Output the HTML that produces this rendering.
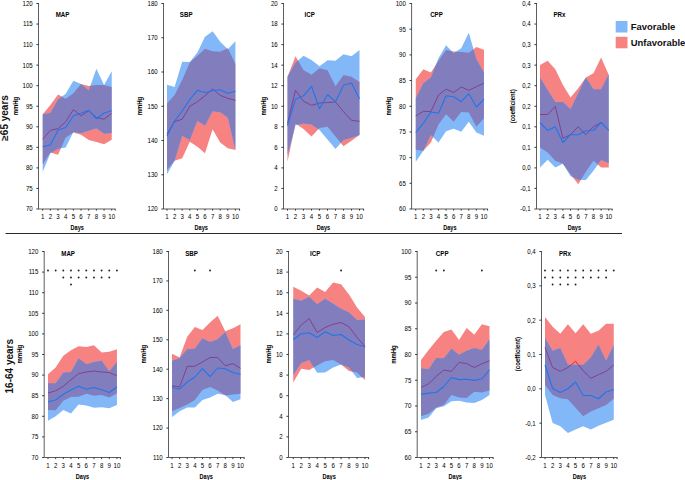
<!DOCTYPE html>
<html><head><meta charset="utf-8"><title>Chart</title>
<style>
html,body{margin:0;padding:0;background:#fff;}
body{width:685px;height:480px;overflow:hidden;}
svg{display:block;font-family:"Liberation Sans",sans-serif;}
</style></head><body>
<svg width="685" height="480" viewBox="0 0 685 480">
<rect width="685" height="480" fill="#fff"/>
<g><clipPath id="cb0"><polygon points="42.7,114.2 50.37,113 58.04,99.6 65.71,93.75 73.38,80.8 81.05,84 88.72,90.4 96.39,68.75 104.06,85 111.73,71.25 111.73,133 104.06,133.7 96.39,128.3 88.72,130.8 81.05,133.3 73.38,132 65.71,147.5 58.04,148.7 50.37,153.3 42.7,171.7"/></clipPath><polygon points="42.7,114.2 50.37,105 58.04,94.6 65.71,98.75 73.38,93.3 81.05,84 88.72,86 96.39,85 104.06,85 111.73,87 111.73,139.7 104.06,144.2 96.39,142 88.72,140 81.05,134.7 73.38,132.5 65.71,137.5 58.04,154.7 50.37,152.5 42.7,164.2" fill="rgb(246,130,130)"/><polyline points="42.7,139.2 50.37,130.3 58.04,128.7 65.71,121.7 73.38,109.7 81.05,115.8 88.72,110.8 96.39,117.5 104.06,119.2 111.73,113.3" fill="none" stroke="rgb(235,30,40)" stroke-width="0.95" stroke-linejoin="round"/><polygon points="42.7,114.2 50.37,113 58.04,99.6 65.71,93.75 73.38,80.8 81.05,84 88.72,90.4 96.39,68.75 104.06,85 111.73,71.25 111.73,133 104.06,133.7 96.39,128.3 88.72,130.8 81.05,133.3 73.38,132 65.71,147.5 58.04,148.7 50.37,153.3 42.7,171.7" fill="rgb(130,184,248)"/><g clip-path="url(#cb0)"><polygon points="42.7,114.2 50.37,105 58.04,94.6 65.71,98.75 73.38,93.3 81.05,84 88.72,86 96.39,85 104.06,85 111.73,87 111.73,139.7 104.06,144.2 96.39,142 88.72,140 81.05,134.7 73.38,132.5 65.71,137.5 58.04,154.7 50.37,152.5 42.7,164.2" fill="rgb(130,126,190)"/><polyline points="42.7,139.2 50.37,130.3 58.04,128.7 65.71,121.7 73.38,109.7 81.05,115.8 88.72,110.8 96.39,117.5 104.06,119.2 111.73,113.3" fill="none" stroke="rgb(128,62,138)" stroke-width="0.95" stroke-linejoin="round"/></g><polyline points="42.7,146.7 50.37,145 58.04,130.3 65.71,127.5 73.38,115.8 81.05,113.3 88.72,110.3 96.39,118.7 104.06,113 111.73,110.8" fill="none" stroke="rgb(30,118,238)" stroke-width="1.1" stroke-linejoin="round"/><path d="M38.5 3V209H115.6" fill="none" stroke="#5e5e5e" stroke-width="1.0"/><path d="M36.4 3.5H38.5 M36.4 24.05H38.5 M36.4 44.6H38.5 M36.4 65.15H38.5 M36.4 85.7H38.5 M36.4 106.25H38.5 M36.4 126.8H38.5 M36.4 147.35H38.5 M36.4 167.9H38.5 M36.4 188.45H38.5 M36.4 209H38.5 M42.7 209V210.6 M50.37 209V210.6 M58.04 209V210.6 M65.71 209V210.6 M73.38 209V210.6 M81.05 209V210.6 M88.72 209V210.6 M96.39 209V210.6 M104.06 209V210.6 M111.73 209V210.6 M115.2 209V210.6" stroke="#222" stroke-width="0.9" fill="none"/><g font-size="7.3" text-anchor="end" fill="#000"><text transform="translate(32.7 5.85) scale(0.835 1)">120</text><text transform="translate(32.7 26.4) scale(0.835 1)">115</text><text transform="translate(32.7 46.95) scale(0.835 1)">110</text><text transform="translate(32.7 67.5) scale(0.835 1)">105</text><text transform="translate(32.7 88.05) scale(0.835 1)">100</text><text transform="translate(32.7 108.6) scale(0.835 1)">95</text><text transform="translate(32.7 129.15) scale(0.835 1)">90</text><text transform="translate(32.7 149.7) scale(0.835 1)">85</text><text transform="translate(32.7 170.25) scale(0.835 1)">80</text><text transform="translate(32.7 190.8) scale(0.835 1)">75</text><text transform="translate(32.7 211.35) scale(0.835 1)">70</text></g><g font-size="7.3" text-anchor="middle" fill="#000"><text transform="translate(42.7 218.9) scale(0.835 1)">1</text><text transform="translate(50.37 218.9) scale(0.835 1)">2</text><text transform="translate(58.04 218.9) scale(0.835 1)">3</text><text transform="translate(65.71 218.9) scale(0.835 1)">4</text><text transform="translate(73.38 218.9) scale(0.835 1)">5</text><text transform="translate(81.05 218.9) scale(0.835 1)">6</text><text transform="translate(88.72 218.9) scale(0.835 1)">7</text><text transform="translate(96.39 218.9) scale(0.835 1)">8</text><text transform="translate(104.06 218.9) scale(0.835 1)">9</text><text transform="translate(111.73 218.9) scale(0.835 1)">10</text></g><text transform="translate(77.22 230.1) scale(0.86 1)" font-size="6.5" font-weight="bold" text-anchor="middle" fill="#000">Days</text><text transform="translate(62.5 16.8) scale(0.86 1)" font-size="7.2" font-weight="bold" text-anchor="middle" fill="#000">MAP</text><text transform="translate(17.5 106) rotate(-90) scale(0.93 1)" font-size="6.4" font-weight="bold" text-anchor="middle" fill="#000">mmHg</text></g>
<g><clipPath id="cb1"><polygon points="167,84.7 174.6,87 182.2,61.7 189.8,62 197.4,52.5 205,36.7 212.6,31.2 220.2,41.7 227.8,49.2 235.4,41.2 235.4,150 227.8,117.5 220.2,112.2 212.6,111.2 205,125.8 197.4,120.8 189.8,140 182.2,135.8 174.6,160.8 167,174.2"/></clipPath><polygon points="167,103.5 174.6,95 182.2,80 189.8,62.5 197.4,55.8 205,48.8 212.6,51.3 220.2,51.7 227.8,48.3 235.4,63.7 235.4,150 227.8,148.3 220.2,142.5 212.6,129.2 205,153.3 197.4,146.7 189.8,141.7 182.2,158.3 174.6,160.8 167,170" fill="rgb(246,130,130)"/><polyline points="167,134 174.6,121.7 182.2,119.2 189.8,106.3 197.4,101.7 205,95.8 212.6,88.8 220.2,95.3 227.8,98.3 235.4,100.3" fill="none" stroke="rgb(235,30,40)" stroke-width="0.95" stroke-linejoin="round"/><polygon points="167,84.7 174.6,87 182.2,61.7 189.8,62 197.4,52.5 205,36.7 212.6,31.2 220.2,41.7 227.8,49.2 235.4,41.2 235.4,150 227.8,117.5 220.2,112.2 212.6,111.2 205,125.8 197.4,120.8 189.8,140 182.2,135.8 174.6,160.8 167,174.2" fill="rgb(130,184,248)"/><g clip-path="url(#cb1)"><polygon points="167,103.5 174.6,95 182.2,80 189.8,62.5 197.4,55.8 205,48.8 212.6,51.3 220.2,51.7 227.8,48.3 235.4,63.7 235.4,150 227.8,148.3 220.2,142.5 212.6,129.2 205,153.3 197.4,146.7 189.8,141.7 182.2,158.3 174.6,160.8 167,170" fill="rgb(130,126,190)"/><polyline points="167,134 174.6,121.7 182.2,119.2 189.8,106.3 197.4,101.7 205,95.8 212.6,88.8 220.2,95.3 227.8,98.3 235.4,100.3" fill="none" stroke="rgb(128,62,138)" stroke-width="0.95" stroke-linejoin="round"/></g><polyline points="167,136 174.6,121 182.2,111 189.8,99.5 197.4,90.3 205,92.5 212.6,90.8 220.2,89.7 227.8,93.3 235.4,91.3" fill="none" stroke="rgb(30,118,238)" stroke-width="1.1" stroke-linejoin="round"/><path d="M163.5 3V209H240" fill="none" stroke="#5e5e5e" stroke-width="1.0"/><path d="M161.4 3.5H163.5 M161.4 37.75H163.5 M161.4 72H163.5 M161.4 106.25H163.5 M161.4 140.5H163.5 M161.4 174.75H163.5 M161.4 209H163.5 M167 209V210.6 M174.6 209V210.6 M182.2 209V210.6 M189.8 209V210.6 M197.4 209V210.6 M205 209V210.6 M212.6 209V210.6 M220.2 209V210.6 M227.8 209V210.6 M235.4 209V210.6 M239.6 209V210.6" stroke="#222" stroke-width="0.9" fill="none"/><g font-size="7.3" text-anchor="end" fill="#000"><text transform="translate(157.7 5.85) scale(0.835 1)">180</text><text transform="translate(157.7 40.1) scale(0.835 1)">170</text><text transform="translate(157.7 74.35) scale(0.835 1)">160</text><text transform="translate(157.7 108.6) scale(0.835 1)">150</text><text transform="translate(157.7 142.85) scale(0.835 1)">140</text><text transform="translate(157.7 177.1) scale(0.835 1)">130</text><text transform="translate(157.7 211.35) scale(0.835 1)">120</text></g><g font-size="7.3" text-anchor="middle" fill="#000"><text transform="translate(167 218.9) scale(0.835 1)">1</text><text transform="translate(174.6 218.9) scale(0.835 1)">2</text><text transform="translate(182.2 218.9) scale(0.835 1)">3</text><text transform="translate(189.8 218.9) scale(0.835 1)">4</text><text transform="translate(197.4 218.9) scale(0.835 1)">5</text><text transform="translate(205 218.9) scale(0.835 1)">6</text><text transform="translate(212.6 218.9) scale(0.835 1)">7</text><text transform="translate(220.2 218.9) scale(0.835 1)">8</text><text transform="translate(227.8 218.9) scale(0.835 1)">9</text><text transform="translate(235.4 218.9) scale(0.835 1)">10</text></g><text transform="translate(201.2 230.1) scale(0.86 1)" font-size="6.5" font-weight="bold" text-anchor="middle" fill="#000">Days</text><text transform="translate(186.2 16.8) scale(0.86 1)" font-size="7.2" font-weight="bold" text-anchor="middle" fill="#000">SBP</text><text transform="translate(141.7 106) rotate(-90) scale(0.93 1)" font-size="6.4" font-weight="bold" text-anchor="middle" fill="#000">mmHg</text></g>
<g><clipPath id="cb2"><polygon points="287.5,76.7 295.5,62.8 303.5,55.8 311.5,60 319.5,66.3 327.5,60.3 335.5,60.8 343.5,54.2 351.5,56.3 359.5,50 359.5,134.9 351.5,137.8 343.5,140.1 335.5,148.9 327.5,139.5 319.5,130 311.5,124.6 303.5,123.4 295.5,125.3 287.5,155"/></clipPath><polygon points="287.5,76.7 295.5,56.3 303.5,70 311.5,74.7 319.5,68.3 327.5,70.3 335.5,86.3 343.5,75 351.5,76.7 359.5,82 359.5,134.9 351.5,140.7 343.5,146.3 335.5,136.6 327.5,126.7 319.5,128.1 311.5,136.6 303.5,129 295.5,123.5 287.5,161.7" fill="rgb(246,130,130)"/><polyline points="287.5,123.3 295.5,90.3 303.5,101.3 311.5,105.3 319.5,103 327.5,102.5 335.5,102 343.5,111.7 351.5,120.3 359.5,121.3" fill="none" stroke="rgb(235,30,40)" stroke-width="0.95" stroke-linejoin="round"/><polygon points="287.5,76.7 295.5,62.8 303.5,55.8 311.5,60 319.5,66.3 327.5,60.3 335.5,60.8 343.5,54.2 351.5,56.3 359.5,50 359.5,134.9 351.5,137.8 343.5,140.1 335.5,148.9 327.5,139.5 319.5,130 311.5,124.6 303.5,123.4 295.5,125.3 287.5,155" fill="rgb(130,184,248)"/><g clip-path="url(#cb2)"><polygon points="287.5,76.7 295.5,56.3 303.5,70 311.5,74.7 319.5,68.3 327.5,70.3 335.5,86.3 343.5,75 351.5,76.7 359.5,82 359.5,134.9 351.5,140.7 343.5,146.3 335.5,136.6 327.5,126.7 319.5,128.1 311.5,136.6 303.5,129 295.5,123.5 287.5,161.7" fill="rgb(130,126,190)"/><polyline points="287.5,123.3 295.5,90.3 303.5,101.3 311.5,105.3 319.5,103 327.5,102.5 335.5,102 343.5,111.7 351.5,120.3 359.5,121.3" fill="none" stroke="rgb(128,62,138)" stroke-width="0.95" stroke-linejoin="round"/></g><polyline points="287.5,125.5 295.5,99.2 303.5,95.8 311.5,86.3 319.5,108.8 327.5,94.5 335.5,101.7 343.5,85.3 351.5,83 359.5,98.7" fill="none" stroke="rgb(30,118,238)" stroke-width="1.1" stroke-linejoin="round"/><path d="M283.5 3V209H364" fill="none" stroke="#5e5e5e" stroke-width="1.0"/><path d="M281.4 3.5H283.5 M281.4 24.05H283.5 M281.4 44.6H283.5 M281.4 65.15H283.5 M281.4 85.7H283.5 M281.4 106.25H283.5 M281.4 126.8H283.5 M281.4 147.35H283.5 M281.4 167.9H283.5 M281.4 188.45H283.5 M281.4 209H283.5 M287.5 209V210.6 M295.5 209V210.6 M303.5 209V210.6 M311.5 209V210.6 M319.5 209V210.6 M327.5 209V210.6 M335.5 209V210.6 M343.5 209V210.6 M351.5 209V210.6 M359.5 209V210.6 M363.6 209V210.6" stroke="#222" stroke-width="0.9" fill="none"/><g font-size="7.3" text-anchor="end" fill="#000"><text transform="translate(277.7 5.85) scale(0.835 1)">20</text><text transform="translate(277.7 26.4) scale(0.835 1)">18</text><text transform="translate(277.7 46.95) scale(0.835 1)">16</text><text transform="translate(277.7 67.5) scale(0.835 1)">14</text><text transform="translate(277.7 88.05) scale(0.835 1)">12</text><text transform="translate(277.7 108.6) scale(0.835 1)">10</text><text transform="translate(277.7 129.15) scale(0.835 1)">8</text><text transform="translate(277.7 149.7) scale(0.835 1)">6</text><text transform="translate(277.7 170.25) scale(0.835 1)">4</text><text transform="translate(277.7 190.8) scale(0.835 1)">2</text><text transform="translate(277.7 211.35) scale(0.835 1)">0</text></g><g font-size="7.3" text-anchor="middle" fill="#000"><text transform="translate(287.5 218.9) scale(0.835 1)">1</text><text transform="translate(295.5 218.9) scale(0.835 1)">2</text><text transform="translate(303.5 218.9) scale(0.835 1)">3</text><text transform="translate(311.5 218.9) scale(0.835 1)">4</text><text transform="translate(319.5 218.9) scale(0.835 1)">5</text><text transform="translate(327.5 218.9) scale(0.835 1)">6</text><text transform="translate(335.5 218.9) scale(0.835 1)">7</text><text transform="translate(343.5 218.9) scale(0.835 1)">8</text><text transform="translate(351.5 218.9) scale(0.835 1)">9</text><text transform="translate(359.5 218.9) scale(0.835 1)">10</text></g><text transform="translate(323.5 230.1) scale(0.86 1)" font-size="6.5" font-weight="bold" text-anchor="middle" fill="#000">Days</text><text transform="translate(309.7 16.8) scale(0.86 1)" font-size="7.2" font-weight="bold" text-anchor="middle" fill="#000">ICP</text><text transform="translate(265.5 106.2) rotate(-90) scale(0.93 1)" font-size="6.4" font-weight="bold" text-anchor="middle" fill="#000">mmHg</text></g>
<g><clipPath id="cb3"><polygon points="415.75,98.3 423.33,83.3 430.91,77.5 438.49,58.3 446.07,45.3 453.65,53.2 461.23,48.3 468.81,32.8 476.39,59.2 483.97,72.5 483.97,135.8 476.39,132.5 468.81,121.7 461.23,131.7 453.65,128.7 446.07,131.25 438.49,142.5 430.91,135 423.33,150.8 415.75,161.7"/></clipPath><polygon points="415.75,79.2 423.33,69.2 430.91,72.5 438.49,60.8 446.07,50 453.65,51.4 461.23,51.9 468.81,52.7 476.39,47 483.97,49.7 483.97,118.3 476.39,126.7 468.81,112.5 461.23,112 453.65,121.7 446.07,114.2 438.49,124.5 430.91,142.5 423.33,150.8 415.75,149.7" fill="rgb(246,130,130)"/><polyline points="415.75,116 423.33,111.3 430.91,111.5 438.49,95 446.07,89.2 453.65,92.5 461.23,87 468.81,90.3 476.39,86.7 483.97,83.3" fill="none" stroke="rgb(235,30,40)" stroke-width="0.95" stroke-linejoin="round"/><polygon points="415.75,98.3 423.33,83.3 430.91,77.5 438.49,58.3 446.07,45.3 453.65,53.2 461.23,48.3 468.81,32.8 476.39,59.2 483.97,72.5 483.97,135.8 476.39,132.5 468.81,121.7 461.23,131.7 453.65,128.7 446.07,131.25 438.49,142.5 430.91,135 423.33,150.8 415.75,161.7" fill="rgb(130,184,248)"/><g clip-path="url(#cb3)"><polygon points="415.75,79.2 423.33,69.2 430.91,72.5 438.49,60.8 446.07,50 453.65,51.4 461.23,51.9 468.81,52.7 476.39,47 483.97,49.7 483.97,118.3 476.39,126.7 468.81,112.5 461.23,112 453.65,121.7 446.07,114.2 438.49,124.5 430.91,142.5 423.33,150.8 415.75,149.7" fill="rgb(130,126,190)"/><polyline points="415.75,116 423.33,111.3 430.91,111.5 438.49,95 446.07,89.2 453.65,92.5 461.23,87 468.81,90.3 476.39,86.7 483.97,83.3" fill="none" stroke="rgb(128,62,138)" stroke-width="0.95" stroke-linejoin="round"/></g><polyline points="415.75,132.5 423.33,123.3 430.91,112 438.49,113.3 446.07,95.8 453.65,96.7 461.23,101.7 468.81,93.7 476.39,107 483.97,99.2" fill="none" stroke="rgb(30,118,238)" stroke-width="1.1" stroke-linejoin="round"/><path d="M411.6 3V209H488" fill="none" stroke="#5e5e5e" stroke-width="1.0"/><path d="M409.5 3.5H411.6 M409.5 29.19H411.6 M409.5 54.88H411.6 M409.5 80.56H411.6 M409.5 106.25H411.6 M409.5 131.94H411.6 M409.5 157.62H411.6 M409.5 183.31H411.6 M409.5 209H411.6 M415.75 209V210.6 M423.33 209V210.6 M430.91 209V210.6 M438.49 209V210.6 M446.07 209V210.6 M453.65 209V210.6 M461.23 209V210.6 M468.81 209V210.6 M476.39 209V210.6 M483.97 209V210.6 M487.6 209V210.6" stroke="#222" stroke-width="0.9" fill="none"/><g font-size="7.3" text-anchor="end" fill="#000"><text transform="translate(405.8 5.85) scale(0.835 1)">100</text><text transform="translate(405.8 31.54) scale(0.835 1)">95</text><text transform="translate(405.8 57.23) scale(0.835 1)">90</text><text transform="translate(405.8 82.91) scale(0.835 1)">85</text><text transform="translate(405.8 108.6) scale(0.835 1)">80</text><text transform="translate(405.8 134.29) scale(0.835 1)">75</text><text transform="translate(405.8 159.97) scale(0.835 1)">70</text><text transform="translate(405.8 185.66) scale(0.835 1)">65</text><text transform="translate(405.8 211.35) scale(0.835 1)">60</text></g><g font-size="7.3" text-anchor="middle" fill="#000"><text transform="translate(415.75 218.9) scale(0.835 1)">1</text><text transform="translate(423.33 218.9) scale(0.835 1)">2</text><text transform="translate(430.91 218.9) scale(0.835 1)">3</text><text transform="translate(438.49 218.9) scale(0.835 1)">4</text><text transform="translate(446.07 218.9) scale(0.835 1)">5</text><text transform="translate(453.65 218.9) scale(0.835 1)">6</text><text transform="translate(461.23 218.9) scale(0.835 1)">7</text><text transform="translate(468.81 218.9) scale(0.835 1)">8</text><text transform="translate(476.39 218.9) scale(0.835 1)">9</text><text transform="translate(483.97 218.9) scale(0.835 1)">10</text></g><text transform="translate(449.86 230.1) scale(0.86 1)" font-size="6.5" font-weight="bold" text-anchor="middle" fill="#000">Days</text><text transform="translate(436.5 16.8) scale(0.86 1)" font-size="7.2" font-weight="bold" text-anchor="middle" fill="#000">CPP</text><text transform="translate(390.5 106.2) rotate(-90) scale(0.93 1)" font-size="6.4" font-weight="bold" text-anchor="middle" fill="#000">mmHg</text></g>
<g><clipPath id="cb4"><polygon points="540,77.5 547.64,90 555.28,102 562.92,102 570.56,109.2 578.2,93.3 585.84,77.5 593.48,89.2 601.12,89.2 608.76,74.2 608.76,163.3 601.12,160 593.48,170.8 585.84,180 578.2,179.7 570.56,176.3 562.92,163.7 555.28,167.5 547.64,159.7 540,167.5"/></clipPath><polygon points="540,65 547.64,60.8 555.28,69.2 562.92,85 570.56,97.5 578.2,88.3 585.84,77.5 593.48,73.3 601.12,57.5 608.76,75 608.76,167.5 601.12,167.5 593.48,160.8 585.84,171.7 578.2,184.2 570.56,174.2 562.92,163.7 555.28,160.8 547.64,152.5 540,147.5" fill="rgb(246,130,130)"/><polyline points="540,114.5 547.64,114.5 555.28,106.3 562.92,138.3 570.56,134.7 578.2,126.7 585.84,134.7 593.48,126.7 601.12,122.5" fill="none" stroke="rgb(235,30,40)" stroke-width="0.95" stroke-linejoin="round"/><polygon points="540,77.5 547.64,90 555.28,102 562.92,102 570.56,109.2 578.2,93.3 585.84,77.5 593.48,89.2 601.12,89.2 608.76,74.2 608.76,163.3 601.12,160 593.48,170.8 585.84,180 578.2,179.7 570.56,176.3 562.92,163.7 555.28,167.5 547.64,159.7 540,167.5" fill="rgb(130,184,248)"/><g clip-path="url(#cb4)"><polygon points="540,65 547.64,60.8 555.28,69.2 562.92,85 570.56,97.5 578.2,88.3 585.84,77.5 593.48,73.3 601.12,57.5 608.76,75 608.76,167.5 601.12,167.5 593.48,160.8 585.84,171.7 578.2,184.2 570.56,174.2 562.92,163.7 555.28,160.8 547.64,152.5 540,147.5" fill="rgb(130,126,190)"/><polyline points="540,114.5 547.64,114.5 555.28,106.3 562.92,138.3 570.56,134.7 578.2,126.7 585.84,134.7 593.48,126.7 601.12,122.5" fill="none" stroke="rgb(128,62,138)" stroke-width="0.95" stroke-linejoin="round"/></g><polyline points="540,122.5 547.64,130.5 555.28,126.7 562.92,142.5 570.56,134.7 578.2,134.7 585.84,130.8 593.48,130.5 601.12,122.5 608.76,130.3" fill="none" stroke="rgb(30,118,238)" stroke-width="1.1" stroke-linejoin="round"/><path d="M536.5 3V209H612.5" fill="none" stroke="#5e5e5e" stroke-width="1.0"/><path d="M534.4 3.5H536.5 M534.4 24.05H536.5 M534.4 44.6H536.5 M534.4 65.15H536.5 M534.4 85.7H536.5 M534.4 106.25H536.5 M534.4 126.8H536.5 M534.4 147.35H536.5 M534.4 167.9H536.5 M534.4 188.45H536.5 M534.4 209H536.5 M540 209V210.6 M547.64 209V210.6 M555.28 209V210.6 M562.92 209V210.6 M570.56 209V210.6 M578.2 209V210.6 M585.84 209V210.6 M593.48 209V210.6 M601.12 209V210.6 M608.76 209V210.6 M612.1 209V210.6" stroke="#222" stroke-width="0.9" fill="none"/><g font-size="7.3" text-anchor="end" fill="#000"><text transform="translate(530.7 5.85) scale(0.835 1)">0,4</text><text transform="translate(530.7 26.4) scale(0.835 1)">0,4</text><text transform="translate(530.7 46.95) scale(0.835 1)">0,3</text><text transform="translate(530.7 67.5) scale(0.835 1)">0,3</text><text transform="translate(530.7 88.05) scale(0.835 1)">0,2</text><text transform="translate(530.7 108.6) scale(0.835 1)">0,2</text><text transform="translate(530.7 129.15) scale(0.835 1)">0,1</text><text transform="translate(530.7 149.7) scale(0.835 1)">0,1</text><text transform="translate(530.7 170.25) scale(0.835 1)">0,0</text><text transform="translate(530.7 190.8) scale(0.835 1)">-0,1</text><text transform="translate(530.7 211.35) scale(0.835 1)">-0,1</text></g><g font-size="7.3" text-anchor="middle" fill="#000"><text transform="translate(540 218.9) scale(0.835 1)">1</text><text transform="translate(547.64 218.9) scale(0.835 1)">2</text><text transform="translate(555.28 218.9) scale(0.835 1)">3</text><text transform="translate(562.92 218.9) scale(0.835 1)">4</text><text transform="translate(570.56 218.9) scale(0.835 1)">5</text><text transform="translate(578.2 218.9) scale(0.835 1)">6</text><text transform="translate(585.84 218.9) scale(0.835 1)">7</text><text transform="translate(593.48 218.9) scale(0.835 1)">8</text><text transform="translate(601.12 218.9) scale(0.835 1)">9</text><text transform="translate(608.76 218.9) scale(0.835 1)">10</text></g><text transform="translate(574.38 230.1) scale(0.86 1)" font-size="6.5" font-weight="bold" text-anchor="middle" fill="#000">Days</text><text transform="translate(559.5 16.8) scale(0.86 1)" font-size="7.2" font-weight="bold" text-anchor="middle" fill="#000">PRx</text><text transform="translate(514.5 106.3) rotate(-90) scale(0.94 1)" font-size="6.4" font-weight="bold" text-anchor="middle" fill="#000">(coefficient)</text></g>
<g><clipPath id="cb5"><polygon points="48,383.3 55.66,383.3 63.32,372.5 70.98,372 78.64,358.3 86.3,364.2 93.96,362 101.62,360.8 109.28,371.3 116.94,361.7 116.94,405 109.28,408.3 101.62,407.2 93.96,407.7 86.3,405.6 78.64,404.6 70.98,413.5 63.32,410 55.66,416.25 48,420.75"/></clipPath><polygon points="48,374.2 55.66,367.5 63.32,355.8 70.98,350.3 78.64,346.3 86.3,347 93.96,345.3 101.62,352.5 109.28,351.7 116.94,349.2 116.94,393.3 109.28,397.5 101.62,395 93.96,395.8 86.3,393.7 78.64,396.7 70.98,397 63.32,400.8 55.66,410.3 48,410" fill="rgb(246,130,130)"/><polyline points="48,393 55.66,390.8 63.32,386.3 70.98,379.7 78.64,373.7 86.3,372 93.96,371 101.62,372 109.28,372.5 116.94,375.8" fill="none" stroke="rgb(235,30,40)" stroke-width="0.95" stroke-linejoin="round"/><polygon points="48,383.3 55.66,383.3 63.32,372.5 70.98,372 78.64,358.3 86.3,364.2 93.96,362 101.62,360.8 109.28,371.3 116.94,361.7 116.94,405 109.28,408.3 101.62,407.2 93.96,407.7 86.3,405.6 78.64,404.6 70.98,413.5 63.32,410 55.66,416.25 48,420.75" fill="rgb(130,184,248)"/><g clip-path="url(#cb5)"><polygon points="48,374.2 55.66,367.5 63.32,355.8 70.98,350.3 78.64,346.3 86.3,347 93.96,345.3 101.62,352.5 109.28,351.7 116.94,349.2 116.94,393.3 109.28,397.5 101.62,395 93.96,395.8 86.3,393.7 78.64,396.7 70.98,397 63.32,400.8 55.66,410.3 48,410" fill="rgb(130,126,190)"/><polyline points="48,393 55.66,390.8 63.32,386.3 70.98,379.7 78.64,373.7 86.3,372 93.96,371 101.62,372 109.28,372.5 116.94,375.8" fill="none" stroke="rgb(128,62,138)" stroke-width="0.95" stroke-linejoin="round"/></g><polyline points="48,401.7 55.66,400 63.32,394.2 70.98,390 78.64,386.3 86.3,389.2 93.96,387.5 101.62,389.7 109.28,392.5 116.94,387" fill="none" stroke="rgb(30,118,238)" stroke-width="1.1" stroke-linejoin="round"/><path d="M44.2 251V457.5H120.8" fill="none" stroke="#5e5e5e" stroke-width="1.0"/><path d="M42.1 251.5H44.2 M42.1 272.1H44.2 M42.1 292.7H44.2 M42.1 313.3H44.2 M42.1 333.9H44.2 M42.1 354.5H44.2 M42.1 375.1H44.2 M42.1 395.7H44.2 M42.1 416.3H44.2 M42.1 436.9H44.2 M42.1 457.5H44.2 M48 457.5V459.1 M55.66 457.5V459.1 M63.32 457.5V459.1 M70.98 457.5V459.1 M78.64 457.5V459.1 M86.3 457.5V459.1 M93.96 457.5V459.1 M101.62 457.5V459.1 M109.28 457.5V459.1 M116.94 457.5V459.1 M120.4 457.5V459.1" stroke="#222" stroke-width="0.9" fill="none"/><g font-size="7.3" text-anchor="end" fill="#000"><text transform="translate(38.4 253.85) scale(0.835 1)">120</text><text transform="translate(38.4 274.45) scale(0.835 1)">115</text><text transform="translate(38.4 295.05) scale(0.835 1)">110</text><text transform="translate(38.4 315.65) scale(0.835 1)">105</text><text transform="translate(38.4 336.25) scale(0.835 1)">100</text><text transform="translate(38.4 356.85) scale(0.835 1)">95</text><text transform="translate(38.4 377.45) scale(0.835 1)">90</text><text transform="translate(38.4 398.05) scale(0.835 1)">85</text><text transform="translate(38.4 418.65) scale(0.835 1)">80</text><text transform="translate(38.4 439.25) scale(0.835 1)">75</text><text transform="translate(38.4 459.85) scale(0.835 1)">70</text></g><g font-size="7.3" text-anchor="middle" fill="#000"><text transform="translate(48 468) scale(0.835 1)">1</text><text transform="translate(55.66 468) scale(0.835 1)">2</text><text transform="translate(63.32 468) scale(0.835 1)">3</text><text transform="translate(70.98 468) scale(0.835 1)">4</text><text transform="translate(78.64 468) scale(0.835 1)">5</text><text transform="translate(86.3 468) scale(0.835 1)">6</text><text transform="translate(93.96 468) scale(0.835 1)">7</text><text transform="translate(101.62 468) scale(0.835 1)">8</text><text transform="translate(109.28 468) scale(0.835 1)">9</text><text transform="translate(116.94 468) scale(0.835 1)">10</text></g><text transform="translate(82.47 478.6) scale(0.86 1)" font-size="6.5" font-weight="bold" text-anchor="middle" fill="#000">Days</text><text transform="translate(68.1 255.6) scale(0.86 1)" font-size="7.2" font-weight="bold" text-anchor="middle" fill="#000">MAP</text><text transform="translate(22.2 354.2) rotate(-90) scale(0.93 1)" font-size="6.4" font-weight="bold" text-anchor="middle" fill="#000">mmHg</text><g fill="#222"><circle cx="48" cy="270.5" r="0.95"/><circle cx="55.66" cy="270.5" r="0.95"/><circle cx="63.32" cy="270.5" r="0.95"/><circle cx="70.98" cy="270.5" r="0.95"/><circle cx="78.64" cy="270.5" r="0.95"/><circle cx="86.3" cy="270.5" r="0.95"/><circle cx="93.96" cy="270.5" r="0.95"/><circle cx="101.62" cy="270.5" r="0.95"/><circle cx="109.28" cy="270.5" r="0.95"/><circle cx="116.94" cy="270.5" r="0.95"/><circle cx="63.32" cy="277.5" r="0.95"/><circle cx="70.98" cy="277.5" r="0.95"/><circle cx="78.64" cy="277.5" r="0.95"/><circle cx="86.3" cy="277.5" r="0.95"/><circle cx="93.96" cy="277.5" r="0.95"/><circle cx="101.62" cy="277.5" r="0.95"/><circle cx="109.28" cy="277.5" r="0.95"/><circle cx="70.98" cy="284.5" r="0.95"/></g></g>
<g><clipPath id="cb6"><polygon points="172,360.8 179.61,358.3 187.22,349.2 194.83,348.7 202.44,338.3 210.05,342 217.66,339.2 225.27,332 232.88,349.2 240.49,345.3 240.49,399.25 232.88,402 225.27,395 217.66,393.75 210.05,397.5 202.44,400 194.83,407.5 187.22,407.5 179.61,411.25 172,417"/></clipPath><polygon points="172,353.7 179.61,357.5 187.22,336.7 194.83,327 202.44,330 210.05,322.5 217.66,315.8 225.27,331.3 232.88,328.3 240.49,324.2 240.49,393.75 232.88,394.5 225.27,395.5 217.66,390.5 210.05,387 202.44,390 194.83,400 187.22,404.5 179.61,408 172,411.25" fill="rgb(246,130,130)"/><polyline points="172,385.8 179.61,387 187.22,366.3 194.83,366.3 202.44,362 210.05,357.5 217.66,357.5 225.27,365.8 232.88,363.7 240.49,368.3" fill="none" stroke="rgb(235,30,40)" stroke-width="0.95" stroke-linejoin="round"/><polygon points="172,360.8 179.61,358.3 187.22,349.2 194.83,348.7 202.44,338.3 210.05,342 217.66,339.2 225.27,332 232.88,349.2 240.49,345.3 240.49,399.25 232.88,402 225.27,395 217.66,393.75 210.05,397.5 202.44,400 194.83,407.5 187.22,407.5 179.61,411.25 172,417" fill="rgb(130,184,248)"/><g clip-path="url(#cb6)"><polygon points="172,353.7 179.61,357.5 187.22,336.7 194.83,327 202.44,330 210.05,322.5 217.66,315.8 225.27,331.3 232.88,328.3 240.49,324.2 240.49,393.75 232.88,394.5 225.27,395.5 217.66,390.5 210.05,387 202.44,390 194.83,400 187.22,404.5 179.61,408 172,411.25" fill="rgb(130,126,190)"/><polyline points="172,385.8 179.61,387 187.22,366.3 194.83,366.3 202.44,362 210.05,357.5 217.66,357.5 225.27,365.8 232.88,363.7 240.49,368.3" fill="none" stroke="rgb(128,62,138)" stroke-width="0.95" stroke-linejoin="round"/></g><polyline points="172,387.5 179.61,389.2 187.22,382 194.83,377 202.44,368.7 210.05,376.7 217.66,368 225.27,368.7 232.88,372.5 240.49,374.2" fill="none" stroke="rgb(30,118,238)" stroke-width="1.1" stroke-linejoin="round"/><path d="M168.5 251V457.5H244.5" fill="none" stroke="#5e5e5e" stroke-width="1.0"/><path d="M166.4 251.5H168.5 M166.4 280.93H168.5 M166.4 310.36H168.5 M166.4 339.79H168.5 M166.4 369.21H168.5 M166.4 398.64H168.5 M166.4 428.07H168.5 M166.4 457.5H168.5 M172 457.5V459.1 M179.61 457.5V459.1 M187.22 457.5V459.1 M194.83 457.5V459.1 M202.44 457.5V459.1 M210.05 457.5V459.1 M217.66 457.5V459.1 M225.27 457.5V459.1 M232.88 457.5V459.1 M240.49 457.5V459.1 M244.1 457.5V459.1" stroke="#222" stroke-width="0.9" fill="none"/><g font-size="7.3" text-anchor="end" fill="#000"><text transform="translate(162.7 253.85) scale(0.835 1)">180</text><text transform="translate(162.7 283.28) scale(0.835 1)">170</text><text transform="translate(162.7 312.71) scale(0.835 1)">160</text><text transform="translate(162.7 342.14) scale(0.835 1)">150</text><text transform="translate(162.7 371.56) scale(0.835 1)">140</text><text transform="translate(162.7 400.99) scale(0.835 1)">130</text><text transform="translate(162.7 430.42) scale(0.835 1)">120</text><text transform="translate(162.7 459.85) scale(0.835 1)">110</text></g><g font-size="7.3" text-anchor="middle" fill="#000"><text transform="translate(172 468) scale(0.835 1)">1</text><text transform="translate(179.61 468) scale(0.835 1)">2</text><text transform="translate(187.22 468) scale(0.835 1)">3</text><text transform="translate(194.83 468) scale(0.835 1)">4</text><text transform="translate(202.44 468) scale(0.835 1)">5</text><text transform="translate(210.05 468) scale(0.835 1)">6</text><text transform="translate(217.66 468) scale(0.835 1)">7</text><text transform="translate(225.27 468) scale(0.835 1)">8</text><text transform="translate(232.88 468) scale(0.835 1)">9</text><text transform="translate(240.49 468) scale(0.835 1)">10</text></g><text transform="translate(206.25 478.6) scale(0.86 1)" font-size="6.5" font-weight="bold" text-anchor="middle" fill="#000">Days</text><text transform="translate(191.5 255.6) scale(0.86 1)" font-size="7.2" font-weight="bold" text-anchor="middle" fill="#000">SBP</text><text transform="translate(146.2 354.2) rotate(-90) scale(0.93 1)" font-size="6.4" font-weight="bold" text-anchor="middle" fill="#000">mmHg</text><g fill="#222"><circle cx="194.83" cy="270.5" r="0.95"/><circle cx="210.05" cy="270.5" r="0.95"/></g></g>
<g><clipPath id="cb7"><polygon points="293.25,298.75 301.22,300.75 309.19,296.75 317.16,304.25 325.13,298.75 333.1,303.75 341.07,308.75 349.04,312.5 357.01,320 364.98,319.5 364.98,376.9 357.01,378.1 349.04,367.5 341.07,364.4 333.1,367.5 325.13,372.5 317.16,372.75 309.19,360 301.22,363.1 293.25,375"/></clipPath><polygon points="293.25,286.75 301.22,290.75 309.19,295.5 317.16,287.5 325.13,292 333.1,282.5 341.07,284.25 349.04,294.5 357.01,307.5 364.98,317 364.98,380 357.01,372.5 349.04,371 341.07,364.4 333.1,360 325.13,361.25 317.16,365.6 309.19,370 301.22,368.75 293.25,382.5" fill="rgb(246,130,130)"/><polyline points="293.25,335 301.22,325 309.19,318.5 317.16,332.5 325.13,327.5 333.1,324.25 341.07,322.5 349.04,326.75 357.01,337.5 364.98,346.25" fill="none" stroke="rgb(235,30,40)" stroke-width="0.95" stroke-linejoin="round"/><polygon points="293.25,298.75 301.22,300.75 309.19,296.75 317.16,304.25 325.13,298.75 333.1,303.75 341.07,308.75 349.04,312.5 357.01,320 364.98,319.5 364.98,376.9 357.01,378.1 349.04,367.5 341.07,364.4 333.1,367.5 325.13,372.5 317.16,372.75 309.19,360 301.22,363.1 293.25,375" fill="rgb(130,184,248)"/><g clip-path="url(#cb7)"><polygon points="293.25,286.75 301.22,290.75 309.19,295.5 317.16,287.5 325.13,292 333.1,282.5 341.07,284.25 349.04,294.5 357.01,307.5 364.98,317 364.98,380 357.01,372.5 349.04,371 341.07,364.4 333.1,360 325.13,361.25 317.16,365.6 309.19,370 301.22,368.75 293.25,382.5" fill="rgb(130,126,190)"/><polyline points="293.25,335 301.22,325 309.19,318.5 317.16,332.5 325.13,327.5 333.1,324.25 341.07,322.5 349.04,326.75 357.01,337.5 364.98,346.25" fill="none" stroke="rgb(128,62,138)" stroke-width="0.95" stroke-linejoin="round"/></g><polyline points="293.25,339.5 301.22,333.75 309.19,332.75 317.16,337.5 325.13,331.75 333.1,335.5 341.07,334.5 349.04,340 357.01,344.5 364.98,346.75" fill="none" stroke="rgb(30,118,238)" stroke-width="1.1" stroke-linejoin="round"/><path d="M288.5 251V457.5H369" fill="none" stroke="#5e5e5e" stroke-width="1.0"/><path d="M286.4 251.5H288.5 M286.4 272.1H288.5 M286.4 292.7H288.5 M286.4 313.3H288.5 M286.4 333.9H288.5 M286.4 354.5H288.5 M286.4 375.1H288.5 M286.4 395.7H288.5 M286.4 416.3H288.5 M286.4 436.9H288.5 M286.4 457.5H288.5 M293.25 457.5V459.1 M301.22 457.5V459.1 M309.19 457.5V459.1 M317.16 457.5V459.1 M325.13 457.5V459.1 M333.1 457.5V459.1 M341.07 457.5V459.1 M349.04 457.5V459.1 M357.01 457.5V459.1 M364.98 457.5V459.1 M368.6 457.5V459.1" stroke="#222" stroke-width="0.9" fill="none"/><g font-size="7.3" text-anchor="end" fill="#000"><text transform="translate(282.7 253.85) scale(0.835 1)">20</text><text transform="translate(282.7 274.45) scale(0.835 1)">18</text><text transform="translate(282.7 295.05) scale(0.835 1)">16</text><text transform="translate(282.7 315.65) scale(0.835 1)">14</text><text transform="translate(282.7 336.25) scale(0.835 1)">12</text><text transform="translate(282.7 356.85) scale(0.835 1)">10</text><text transform="translate(282.7 377.45) scale(0.835 1)">8</text><text transform="translate(282.7 398.05) scale(0.835 1)">6</text><text transform="translate(282.7 418.65) scale(0.835 1)">4</text><text transform="translate(282.7 439.25) scale(0.835 1)">2</text><text transform="translate(282.7 459.85) scale(0.835 1)">0</text></g><g font-size="7.3" text-anchor="middle" fill="#000"><text transform="translate(293.25 468) scale(0.835 1)">1</text><text transform="translate(301.22 468) scale(0.835 1)">2</text><text transform="translate(309.19 468) scale(0.835 1)">3</text><text transform="translate(317.16 468) scale(0.835 1)">4</text><text transform="translate(325.13 468) scale(0.835 1)">5</text><text transform="translate(333.1 468) scale(0.835 1)">6</text><text transform="translate(341.07 468) scale(0.835 1)">7</text><text transform="translate(349.04 468) scale(0.835 1)">8</text><text transform="translate(357.01 468) scale(0.835 1)">9</text><text transform="translate(364.98 468) scale(0.835 1)">10</text></g><text transform="translate(329.12 478.6) scale(0.86 1)" font-size="6.5" font-weight="bold" text-anchor="middle" fill="#000">Days</text><text transform="translate(315.2 255.6) scale(0.86 1)" font-size="7.2" font-weight="bold" text-anchor="middle" fill="#000">ICP</text><text transform="translate(270.7 354.2) rotate(-90) scale(0.93 1)" font-size="6.4" font-weight="bold" text-anchor="middle" fill="#000">mmHg</text><g fill="#222"><circle cx="341.07" cy="270.5" r="0.95"/></g></g>
<g><clipPath id="cb8"><polygon points="421,368.3 428.61,369.2 436.22,358 443.83,358.3 451.44,348.7 459.05,354.7 466.66,350.8 474.27,348 481.88,350 489.49,339.2 489.49,395 481.88,400 474.27,403 466.66,402.5 459.05,400.75 451.44,401.25 443.83,406.25 436.22,408.25 428.61,417.5 421,420"/></clipPath><polygon points="421,360 428.61,350 436.22,340.8 443.83,332 451.44,329.5 459.05,340 466.66,328 474.27,334.7 481.88,324.2 489.49,326.3 489.49,390.5 481.88,392.5 474.27,391.75 466.66,398 459.05,397.5 451.44,395 443.83,405 436.22,407.5 428.61,413.75 421,416.25" fill="rgb(246,130,130)"/><polyline points="421,387.5 428.61,383.8 436.22,376.5 443.83,370 451.44,371.3 459.05,362.5 466.66,363.5 474.27,367.5 481.88,363.7 489.49,360.8" fill="none" stroke="rgb(235,30,40)" stroke-width="0.95" stroke-linejoin="round"/><polygon points="421,368.3 428.61,369.2 436.22,358 443.83,358.3 451.44,348.7 459.05,354.7 466.66,350.8 474.27,348 481.88,350 489.49,339.2 489.49,395 481.88,400 474.27,403 466.66,402.5 459.05,400.75 451.44,401.25 443.83,406.25 436.22,408.25 428.61,417.5 421,420" fill="rgb(130,184,248)"/><g clip-path="url(#cb8)"><polygon points="421,360 428.61,350 436.22,340.8 443.83,332 451.44,329.5 459.05,340 466.66,328 474.27,334.7 481.88,324.2 489.49,326.3 489.49,390.5 481.88,392.5 474.27,391.75 466.66,398 459.05,397.5 451.44,395 443.83,405 436.22,407.5 428.61,413.75 421,416.25" fill="rgb(130,126,190)"/><polyline points="421,387.5 428.61,383.8 436.22,376.5 443.83,370 451.44,371.3 459.05,362.5 466.66,363.5 474.27,367.5 481.88,363.7 489.49,360.8" fill="none" stroke="rgb(128,62,138)" stroke-width="0.95" stroke-linejoin="round"/></g><polyline points="421,394.4 428.61,393.1 436.22,392.5 443.83,386.5 451.44,377.5 459.05,379.6 466.66,379.2 474.27,380.4 481.88,378.8 489.49,370" fill="none" stroke="rgb(30,118,238)" stroke-width="1.1" stroke-linejoin="round"/><path d="M417.2 251V457.5H493.5" fill="none" stroke="#5e5e5e" stroke-width="1.0"/><path d="M415.1 251.5H417.2 M415.1 277.25H417.2 M415.1 303H417.2 M415.1 328.75H417.2 M415.1 354.5H417.2 M415.1 380.25H417.2 M415.1 406H417.2 M415.1 431.75H417.2 M415.1 457.5H417.2 M421 457.5V459.1 M428.61 457.5V459.1 M436.22 457.5V459.1 M443.83 457.5V459.1 M451.44 457.5V459.1 M459.05 457.5V459.1 M466.66 457.5V459.1 M474.27 457.5V459.1 M481.88 457.5V459.1 M489.49 457.5V459.1 M493.1 457.5V459.1" stroke="#222" stroke-width="0.9" fill="none"/><g font-size="7.3" text-anchor="end" fill="#000"><text transform="translate(411.4 253.85) scale(0.835 1)">100</text><text transform="translate(411.4 279.6) scale(0.835 1)">95</text><text transform="translate(411.4 305.35) scale(0.835 1)">90</text><text transform="translate(411.4 331.1) scale(0.835 1)">85</text><text transform="translate(411.4 356.85) scale(0.835 1)">80</text><text transform="translate(411.4 382.6) scale(0.835 1)">75</text><text transform="translate(411.4 408.35) scale(0.835 1)">70</text><text transform="translate(411.4 434.1) scale(0.835 1)">65</text><text transform="translate(411.4 459.85) scale(0.835 1)">60</text></g><g font-size="7.3" text-anchor="middle" fill="#000"><text transform="translate(421 468) scale(0.835 1)">1</text><text transform="translate(428.61 468) scale(0.835 1)">2</text><text transform="translate(436.22 468) scale(0.835 1)">3</text><text transform="translate(443.83 468) scale(0.835 1)">4</text><text transform="translate(451.44 468) scale(0.835 1)">5</text><text transform="translate(459.05 468) scale(0.835 1)">6</text><text transform="translate(466.66 468) scale(0.835 1)">7</text><text transform="translate(474.27 468) scale(0.835 1)">8</text><text transform="translate(481.88 468) scale(0.835 1)">9</text><text transform="translate(489.49 468) scale(0.835 1)">10</text></g><text transform="translate(455.25 478.6) scale(0.86 1)" font-size="6.5" font-weight="bold" text-anchor="middle" fill="#000">Days</text><text transform="translate(442.2 255.6) scale(0.86 1)" font-size="7.2" font-weight="bold" text-anchor="middle" fill="#000">CPP</text><text transform="translate(396.2 354.5) rotate(-90) scale(0.93 1)" font-size="6.4" font-weight="bold" text-anchor="middle" fill="#000">mmHg</text><g fill="#222"><circle cx="436.22" cy="270.5" r="0.95"/><circle cx="443.83" cy="270.5" r="0.95"/><circle cx="481.88" cy="270.5" r="0.95"/></g></g>
<g><clipPath id="cb9"><polygon points="545,338 552.64,350.8 560.28,348 567.92,364.7 575.56,364.7 583.2,364.7 590.84,357.5 598.48,344.7 606.12,360.8 613.76,345 613.76,419.8 606.12,422.8 598.48,425.8 590.84,429.5 583.2,426.25 575.56,429.5 567.92,433 560.28,426.25 552.64,423 545,395"/></clipPath><polygon points="545,317 552.64,326.7 560.28,333.7 567.92,324.2 575.56,333.3 583.2,324.2 590.84,333.7 598.48,330.8 606.12,323.7 613.76,323.7 613.76,398.75 606.12,405 598.48,408.3 590.84,411.6 583.2,416.2 575.56,407.8 567.92,399.2 560.28,398.2 552.64,395 545,385" fill="rgb(246,130,130)"/><polyline points="545,347.5 552.64,367.5 560.28,371.3 567.92,367.5 575.56,361.3 583.2,370.8 590.84,378.3 598.48,374.7 606.12,371.3 613.76,365" fill="none" stroke="rgb(235,30,40)" stroke-width="0.95" stroke-linejoin="round"/><polygon points="545,338 552.64,350.8 560.28,348 567.92,364.7 575.56,364.7 583.2,364.7 590.84,357.5 598.48,344.7 606.12,360.8 613.76,345 613.76,419.8 606.12,422.8 598.48,425.8 590.84,429.5 583.2,426.25 575.56,429.5 567.92,433 560.28,426.25 552.64,423 545,395" fill="rgb(130,184,248)"/><g clip-path="url(#cb9)"><polygon points="545,317 552.64,326.7 560.28,333.7 567.92,324.2 575.56,333.3 583.2,324.2 590.84,333.7 598.48,330.8 606.12,323.7 613.76,323.7 613.76,398.75 606.12,405 598.48,408.3 590.84,411.6 583.2,416.2 575.56,407.8 567.92,399.2 560.28,398.2 552.64,395 545,385" fill="rgb(130,126,190)"/><polyline points="545,347.5 552.64,367.5 560.28,371.3 567.92,367.5 575.56,361.3 583.2,370.8 590.84,378.3 598.48,374.7 606.12,371.3 613.76,365" fill="none" stroke="rgb(128,62,138)" stroke-width="0.95" stroke-linejoin="round"/></g><polyline points="545,365 552.64,388.5 560.28,392.5 567.92,388.75 575.56,382 583.2,395.5 590.84,395.5 598.48,398.75 606.12,392 613.76,389.5" fill="none" stroke="rgb(30,118,238)" stroke-width="1.1" stroke-linejoin="round"/><path d="M541.5 251V457.5H617.5" fill="none" stroke="#5e5e5e" stroke-width="1.0"/><path d="M539.4 251.5H541.5 M539.4 285.83H541.5 M539.4 320.17H541.5 M539.4 354.5H541.5 M539.4 388.83H541.5 M539.4 423.17H541.5 M539.4 457.5H541.5 M545 457.5V459.1 M552.64 457.5V459.1 M560.28 457.5V459.1 M567.92 457.5V459.1 M575.56 457.5V459.1 M583.2 457.5V459.1 M590.84 457.5V459.1 M598.48 457.5V459.1 M606.12 457.5V459.1 M613.76 457.5V459.1 M617.1 457.5V459.1" stroke="#222" stroke-width="0.9" fill="none"/><g font-size="7.3" text-anchor="end" fill="#000"><text transform="translate(535.7 253.85) scale(0.835 1)">0,4</text><text transform="translate(535.7 288.18) scale(0.835 1)">0,3</text><text transform="translate(535.7 322.52) scale(0.835 1)">0,2</text><text transform="translate(535.7 356.85) scale(0.835 1)">0,1</text><text transform="translate(535.7 391.18) scale(0.835 1)">0,0</text><text transform="translate(535.7 425.52) scale(0.835 1)">-0,1</text><text transform="translate(535.7 459.85) scale(0.835 1)">-0,2</text></g><g font-size="7.3" text-anchor="middle" fill="#000"><text transform="translate(545 468) scale(0.835 1)">1</text><text transform="translate(552.64 468) scale(0.835 1)">2</text><text transform="translate(560.28 468) scale(0.835 1)">3</text><text transform="translate(567.92 468) scale(0.835 1)">4</text><text transform="translate(575.56 468) scale(0.835 1)">5</text><text transform="translate(583.2 468) scale(0.835 1)">6</text><text transform="translate(590.84 468) scale(0.835 1)">7</text><text transform="translate(598.48 468) scale(0.835 1)">8</text><text transform="translate(606.12 468) scale(0.835 1)">9</text><text transform="translate(613.76 468) scale(0.835 1)">10</text></g><text transform="translate(579.38 478.6) scale(0.86 1)" font-size="6.5" font-weight="bold" text-anchor="middle" fill="#000">Days</text><text transform="translate(565 255.6) scale(0.86 1)" font-size="7.2" font-weight="bold" text-anchor="middle" fill="#000">PRx</text><text transform="translate(520.2 354.1) rotate(-90) scale(0.94 1)" font-size="6.4" font-weight="bold" text-anchor="middle" fill="#000">(coefficient)</text><g fill="#222"><circle cx="545" cy="270.5" r="0.95"/><circle cx="552.64" cy="270.5" r="0.95"/><circle cx="560.28" cy="270.5" r="0.95"/><circle cx="567.92" cy="270.5" r="0.95"/><circle cx="575.56" cy="270.5" r="0.95"/><circle cx="583.2" cy="270.5" r="0.95"/><circle cx="590.84" cy="270.5" r="0.95"/><circle cx="598.48" cy="270.5" r="0.95"/><circle cx="606.12" cy="270.5" r="0.95"/><circle cx="613.76" cy="270.5" r="0.95"/><circle cx="545" cy="277.5" r="0.95"/><circle cx="552.64" cy="277.5" r="0.95"/><circle cx="560.28" cy="277.5" r="0.95"/><circle cx="567.92" cy="277.5" r="0.95"/><circle cx="575.56" cy="277.5" r="0.95"/><circle cx="583.2" cy="277.5" r="0.95"/><circle cx="590.84" cy="277.5" r="0.95"/><circle cx="598.48" cy="277.5" r="0.95"/><circle cx="606.12" cy="277.5" r="0.95"/><circle cx="552.64" cy="284.5" r="0.95"/><circle cx="560.28" cy="284.5" r="0.95"/><circle cx="567.92" cy="284.5" r="0.95"/><circle cx="575.56" cy="284.5" r="0.95"/></g></g>
<text transform="translate(8.3 117.9) rotate(-90)" font-size="10" font-weight="bold" text-anchor="middle" fill="#111">&#8805;65 years</text>
<text transform="translate(13 366.2) rotate(-90)" font-size="10" font-weight="bold" text-anchor="middle" fill="#111">16-64 years</text>
<path d="M5.5 233.5H622" stroke="#2a2a2a" stroke-width="1.2"/>
<rect x="615.7" y="21" width="11.8" height="11.5" fill="rgb(130,184,248)"/>
<rect x="615.7" y="36.8" width="11.8" height="11.5" fill="rgb(246,130,130)"/>
<text transform="translate(630.7 30.1) scale(0.965 1)" font-size="9.8" font-weight="bold" fill="#111">Favorable</text>
<text transform="translate(630.7 45.6) scale(0.965 1)" font-size="9.8" font-weight="bold" fill="#111">Unfavorable</text>
</svg>
</body></html>
